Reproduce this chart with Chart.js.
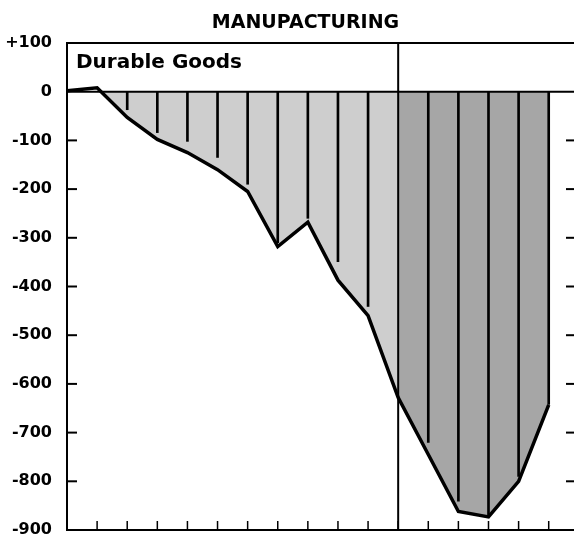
<!DOCTYPE html>
<html><head><meta charset="utf-8">
<script src="https://cdn.jsdelivr.net/npm/chart.js@4.4.0/dist/chart.umd.min.js"></script>
<style>html,body{margin:0;padding:0;background:#fff;overflow:hidden}#wrap{width:574px;height:534px;position:relative}</style>
</head><body><div id="wrap"><canvas id="c"></canvas></div>
<script>
// ---- data ----
const periods = [0,1,2,3,4,5,6,7,8,9,10,11,12,13,14,15,16];
const durableGoods = [2, 8, -53, -98, -125, -160, -205, -318, -268, -387, -460, -628, -745, -862, -873, -800, -643];
const dropLineEnds = [null, null, -37, -84, -102, -135, -190, -310, -260, -349, -441, null, -720, -841, -872, -790, -642];
const yTickValues = [100, 0, -100, -200, -300, -400, -500, -600, -700, -800, -900];
const yTickLabels = ['+100', '0', '-100', '-200', '-300', '-400', '-500', '-600', '-700', '-800', '-900'];
const dividerIndex = 11;
const titleText = 'MANUPACTURING';
const panelLabel = 'Durable Goods';

const FONT = '"DejaVu Sans", "Liberation Sans", sans-serif';
const lightFill = '#cecece';
const darkFill = '#a6a6a6';

const pts = arr => periods.map((p, i) => ({x: p, y: arr[i]}));
const lightData = periods.map((p, i) => ({x: p, y: i <= dividerIndex ? durableGoods[i] : null}));
const darkData = periods.map((p, i) => ({x: p, y: i >= dividerIndex ? durableGoods[i] : null}));

const decor = {
  id: 'decor',
  afterDatasetsDraw(chart) {
    const {ctx, chartArea: a, scales: {x, y}} = chart;
    ctx.save();
    ctx.strokeStyle = '#000';
    ctx.lineCap = 'butt';
    ctx.lineWidth = 2;
    ctx.beginPath(); ctx.moveTo(a.left, a.top); ctx.lineTo(a.right, a.top); ctx.stroke();
    const y0 = y.getPixelForValue(0);
    ctx.beginPath(); ctx.moveTo(a.left, y0); ctx.lineTo(a.right, y0); ctx.stroke();
    const xd = x.getPixelForValue(periods[dividerIndex]);
    ctx.beginPath(); ctx.moveTo(xd, a.top); ctx.lineTo(xd, a.bottom); ctx.stroke();
    yTickValues.forEach(v => {
      if (v >= 0 || v <= -900) return;
      const py = y.getPixelForValue(v);
      ctx.beginPath(); ctx.moveTo(a.left, py); ctx.lineTo(a.left + 10, py); ctx.stroke();
      ctx.beginPath(); ctx.moveTo(a.right - 8, py); ctx.lineTo(a.right, py); ctx.stroke();
    });
    ctx.lineWidth = 1.5;
    periods.forEach(p => {
      if (p === 0) return;
      const px = x.getPixelForValue(p);
      ctx.beginPath(); ctx.moveTo(px, a.bottom); ctx.lineTo(px, a.bottom - 9); ctx.stroke();
    });
    ctx.fillStyle = '#000';
    ctx.font = 'bold 20px ' + FONT;
    ctx.textAlign = 'left';
    ctx.textBaseline = 'alphabetic';
    ctx.fillText(panelLabel, a.left + 9, a.top + 25);
    ctx.font = 'bold 19px ' + FONT;
    ctx.textAlign = 'center';
    ctx.fillText(titleText, (a.left + a.right) / 2 - 15, a.top - 15);
    ctx.restore();
  }
};

new Chart(document.getElementById('c'), {
  type: 'line',
  data: {
    datasets: [
      {
        label: 'line', data: pts(durableGoods), borderColor: '#000', borderWidth: 3.5,
        pointRadius: 0, fill: false, tension: 0, order: 0, borderJoinStyle: 'miter'
      },
      {
        type: 'bar', label: 'drops', data: pts(dropLineEnds), backgroundColor: '#000',
        barThickness: 2, order: 1
      },
      {
        label: 'light', data: lightData, borderWidth: 0, borderColor: 'rgba(0,0,0,0)', pointRadius: 0,
        fill: {target: 'origin', above: 'rgba(0,0,0,0)', below: lightFill}, spanGaps: false, order: 3
      },
      {
        label: 'dark', data: darkData, borderWidth: 0, borderColor: 'rgba(0,0,0,0)', pointRadius: 0,
        fill: {target: 'origin', above: 'rgba(0,0,0,0)', below: darkFill}, spanGaps: false, order: 2
      }
    ]
  },
  options: {
    responsive: true, maintainAspectRatio: false, animation: false,
    layout: {padding: {left: 0, right: 0, top: 43, bottom: 4}},
    plugins: {
      legend: {display: false}, tooltip: {enabled: false}, title: {display: false}
    },
    scales: {
      x: {
        type: 'linear', min: 0, max: 16.84, offset: false,
        grid: {display: false, drawTicks: false},
        ticks: {display: false},
        afterFit: s => { s.height = 0; s.paddingLeft = 0; s.paddingRight = 0; },
        border: {display: true, color: '#000', width: 2}
      },
      y: {
        min: -900, max: 100,
        afterBuildTicks: s => { s.ticks = yTickValues.map(v => ({value: v})); },
        afterFit: s => { s.width = 67; s.paddingTop = 0; s.paddingBottom = 0; },
        ticks: {
          callback: (v) => yTickLabels[yTickValues.indexOf(v)],
          color: '#000', padding: 15, font: {family: FONT, size: 16, weight: 'bold'}
        },
        grid: {display: false, drawTicks: false},
        border: {display: true, color: '#000', width: 2}
      }
    }
  },
  plugins: [decor]
});
</script>
</body></html>
